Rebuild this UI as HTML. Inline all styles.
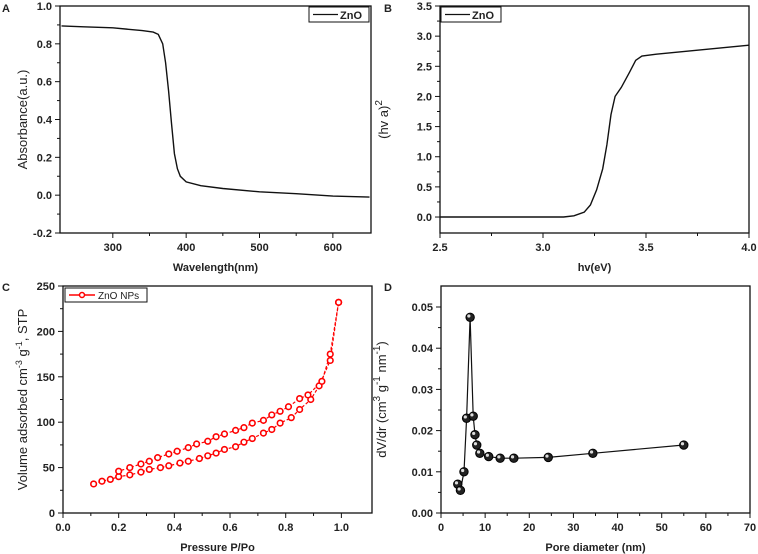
<!DOCTYPE html>
<html><head><meta charset="utf-8"><style>
body{margin:0;background:#fff}
svg{display:block;font-family:"Liberation Sans",sans-serif}
text{font-size:11px;font-weight:bold;fill:#222}
</style></head><body>
<svg id="s" width="758" height="554"></svg>
<script>
// Panel A data
const aX=[230,260,300,340,355,362,368,372,376,380,384,388,392,400,420,450,500,550,600,650];
const aY=[0.895,0.89,0.885,0.87,0.862,0.85,0.8,0.7,0.55,0.38,0.22,0.14,0.1,0.07,0.05,0.035,0.018,0.008,-0.005,-0.01];
const aXTicks=[300,400,500,600];
const aYTicks=[-0.2,0,0.2,0.4,0.6,0.8,1.0];
// Panel B data
const bX=[2.5,3.1,3.15,3.2,3.23,3.26,3.29,3.31,3.33,3.35,3.38,3.42,3.45,3.48,3.55,3.7,3.85,4.0];
const bY=[0,0,0.02,0.08,0.2,0.45,0.8,1.2,1.7,2.0,2.15,2.4,2.6,2.67,2.7,2.75,2.8,2.85];
const bXTicks=[2.5,3.0,3.5,4.0];
const bYTicks=[0,0.5,1.0,1.5,2.0,2.5,3.0,3.5];
// Panel C data
const cAdsX=[0.11,0.14,0.17,0.2,0.24,0.28,0.31,0.35,0.38,0.42,0.45,0.49,0.52,0.55,0.58,0.62,0.65,0.68,0.72,0.75,0.78,0.82,0.85,0.89,0.92,0.96,0.99];
const cAdsY=[32,35,37,40,42,45,48,50,52,55,57,60,63,66,70,73,78,82,88,92,99,105,114,125,140,168,232];
const cDesX=[0.99,0.96,0.93,0.88,0.85,0.81,0.78,0.75,0.72,0.68,0.65,0.62,0.58,0.55,0.52,0.48,0.45,0.41,0.38,0.34,0.31,0.28,0.24,0.2];
const cDesY=[232,175,145,130,126,117,112,108,102,99,94,91,87,84,79,76,72,68,65,61,57,54,50,46];
const cXTicks=[0,0.2,0.4,0.6,0.8,1.0];
const cYTicks=[0,50,100,150,200,250];
// Panel D data
const dX=[3.8,4.4,5.2,5.8,6.6,7.3,7.7,8.1,8.8,10.8,13.4,16.5,24.3,34.4,55];
const dY=[0.007,0.0055,0.010,0.023,0.0475,0.0235,0.019,0.0165,0.0145,0.0137,0.0133,0.0133,0.0135,0.0145,0.0165];
const dXTicks=[0,10,20,30,40,50,60,70];
const dYTicks=[0,0.01,0.02,0.03,0.04,0.05];

const NS='http://www.w3.org/2000/svg';
const svg=document.getElementById('s');
function mk(tag,attrs,parent,txt){const e=document.createElementNS(NS,tag);for(const k in attrs)e.setAttribute(k,attrs[k]);if(txt!=null)e.textContent=txt;(parent||svg).appendChild(e);return e;}
function lin(d0,d1,r0,r1){return v=>r0+(v-d0)*(r1-r0)/(d1-d0);}

function panel(o){
  const g=mk('g',{});
  
  
  const sx=lin(o.xd[0],o.xd[1],o.L,o.R), sy=lin(o.yd[0],o.yd[1],o.B,o.T);
  const fr=mk('rect',{x:o.L,y:o.T,width:o.R-o.L,height:o.B-o.T,fill:'none',stroke:'#111','stroke-width':1.3},g);
  
  
  o.xt.forEach((v,i)=>{const x=sx(v);mk('line',{x1:x,x2:x,y1:o.B,y2:o.B+5,stroke:'#111'},g);
    if(i<o.xt.length-1&&o.xm){const x2=(x+sx(o.xt[i+1]))/2;mk('line',{x1:x2,x2:x2,y1:o.B,y2:o.B+3,stroke:'#111'},g);}
    const t=mk('text',{x:x,y:o.B+18,'text-anchor':'middle'},g,o.xf(v));
    
    });
  o.yt.forEach((v,i)=>{const y=sy(v);mk('line',{x1:o.L-5,x2:o.L,y1:y,y2:y,stroke:'#111'},g);
    if(i<o.yt.length-1){const y2=(y+sy(o.yt[i+1]))/2;mk('line',{x1:o.L-3,x2:o.L,y1:y2,y2:y2,stroke:'#111'},g);}
    const t=mk('text',{x:o.L-8,y:y+4,'text-anchor':'end'},g,o.yf(v));
    
    });
  const xl=mk('text',{x:(o.L+o.R)/2,y:o.B+38,'text-anchor':'middle'},g,o.xlab);
  
  
  const yl=mk('text',{x:0,y:0,'text-anchor':'middle',transform:`translate(${o.yx},${(o.T+o.B)/2}) rotate(-90)`,style:'font-size:13px;font-weight:normal'},g);
  yl.innerHTML=o.ylab;
  
  
  const lt=mk('text',{x:o.lx,y:o.ly,style:'font-size:11px'},g,o.letter);
  
  
  return {g,sx,sy};
}
function path(g,xs,ys,sx,sy,attrs,name){const d=xs.map((x,i)=>(i?'L':'M')+sx(x).toFixed(1)+' '+sy(ys[i]).toFixed(1)).join(' ');
  const p=mk('path',Object.assign({d,fill:'none'},attrs),g);return p;}
function f1(v){return v.toFixed(1);}

// A
let A=panel({name:'panel-a',L:60,R:371,T:6,B:233,xd:[228,652],yd:[-0.2,1.0],xt:aXTicks,yt:aYTicks,xm:true,xf:v=>v,yf:f1,xlab:'Wavelength(nm)',ylab:'Absorbance(a.u.)',yx:27,letter:'A',lx:2,ly:12});
path(A.g,aX,aY,A.sx,A.sy,{stroke:'#111','stroke-width':1.4},'absorbance-line');
let lg=mk('g',{},A.g);
mk('rect',{x:309,y:7,width:60,height:15,fill:'#fff',stroke:'#111'},lg);
mk('line',{x1:313,x2:338,y1:14.5,y2:14.5,stroke:'#111','stroke-width':1.3},lg);
mk('text',{x:340,y:19},lg,'ZnO');

// B
let B=panel({name:'panel-b',L:440,R:749,T:6,B:233,xd:[2.5,4.0],yd:[-0.265,3.5],xt:bXTicks,yt:bYTicks,xm:true,xf:f1,yf:f1,xlab:'hv(eV)',ylab:'(hv a)<tspan dy="-6" style="font-size:10px">2</tspan>',yx:388,letter:'B',lx:384,ly:12});
path(B.g,bX,bY,B.sx,B.sy,{stroke:'#111','stroke-width':1.4},'tauc-line');
lg=mk('g',{},B.g);
mk('rect',{x:441,y:7,width:60,height:15,fill:'#fff',stroke:'#111'},lg);
mk('line',{x1:445,x2:470,y1:14.5,y2:14.5,stroke:'#111','stroke-width':1.3},lg);
mk('text',{x:472,y:19},lg,'ZnO');

// C
let C=panel({name:'panel-c',L:63,R:372,T:286,B:513,xd:[0,1.11],yd:[0,250],xt:cXTicks,yt:cYTicks,xm:true,xf:f1,yf:v=>v,xlab:'Pressure P/Po',ylab:'Volume adsorbed cm<tspan dy="-5" style="font-size:9px">-3</tspan><tspan dy="5"> g</tspan><tspan dy="-5" style="font-size:9px">-1</tspan><tspan dy="5">, STP</tspan>',yx:27,letter:'C',lx:2,ly:291});
function markers(g,xs,ys,sx,sy,name){xs.forEach((x,i)=>{const c=mk('circle',{cx:sx(x),cy:sy(ys[i]),r:2.8,fill:'#fff',stroke:'#f00','stroke-width':1.6},g);});}
path(C.g,cAdsX,cAdsY,C.sx,C.sy,{stroke:'#f00','stroke-width':1.2,'stroke-dasharray':'3 2'},'adsorption-line');
path(C.g,cDesX,cDesY,C.sx,C.sy,{stroke:'#f00','stroke-width':1.2,'stroke-dasharray':'3 2'},'desorption-line');
markers(C.g,cAdsX,cAdsY,C.sx,C.sy,'adsorption-point');
markers(C.g,cDesX,cDesY,C.sx,C.sy,'desorption-point');
lg=mk('g',{},C.g);
mk('rect',{x:65,y:288,width:82,height:14,fill:'#fff',stroke:'#111'},lg);
mk('line',{x1:69,x2:95,y1:295,y2:295,stroke:'#f00','stroke-width':1.4},lg);
mk('circle',{cx:82,cy:295,r:2.5,fill:'#fff',stroke:'#f00','stroke-width':1.5},lg);
mk('text',{x:98,y:299,style:'font-size:10px;font-weight:normal'},lg,'ZnO NPs');

// D
let D=panel({name:'panel-d',L:441,R:750,T:286,B:513,xd:[0,70],yd:[0,0.0551],xt:dXTicks,yt:dYTicks,xm:true,xf:v=>v,yf:v=>v.toFixed(2),xlab:'Pore diameter (nm)',ylab:'dV/dr (cm<tspan dy="-6" style="font-size:10px">3</tspan><tspan dy="6"> g</tspan><tspan dy="-6" style="font-size:10px">-1</tspan><tspan dy="6"> nm</tspan><tspan dy="-6" style="font-size:10px">-1</tspan><tspan dy="6">)</tspan>',yx:386,letter:'D',lx:384,ly:291});
path(D.g,dX,dY,D.sx,D.sy,{stroke:'#111','stroke-width':1.2},'pore-distribution-line');
dX.forEach((x,i)=>{const c=mk('circle',{cx:D.sx(x),cy:D.sy(dY[i]),r:4.2,fill:'#222',stroke:'#000'},D.g);
  mk('circle',{cx:D.sx(x)-1.3,cy:D.sy(dY[i])-1.3,r:1.6,fill:'#ddd'},D.g);});
</script>
</body></html>
